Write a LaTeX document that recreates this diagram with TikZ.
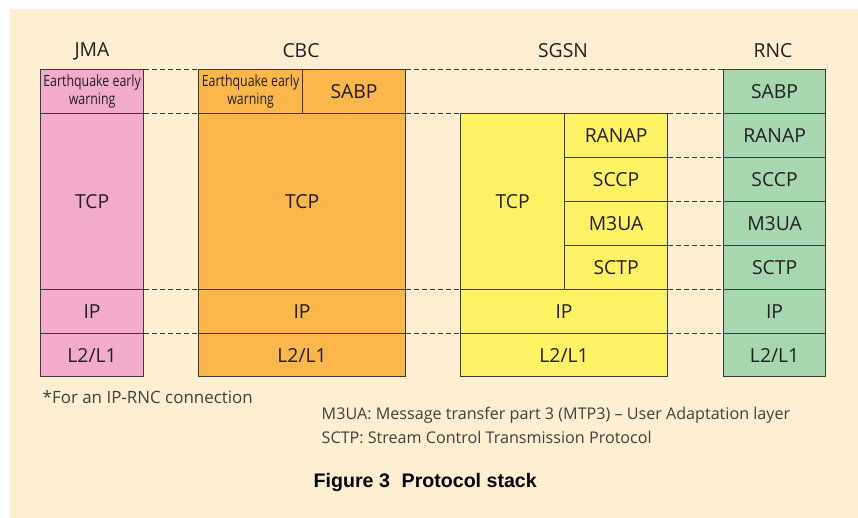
\documentclass[tikz,border=0pt]{standalone}
\usepackage{fontspec}
\setmainfont{Open Sans}
\newfontfamily\condfont{Open Sans}[FakeStretch=0.8]
\newfontfamily\capfont{Liberation Sans}
\newlength\px
\setlength\px{0.75pt}
\definecolor{bgc}{HTML}{FEEFD3}
\definecolor{jmac}{HTML}{F2ABCD}
\definecolor{cbcc}{HTML}{FBB74B}
\definecolor{sgsnc}{HTML}{FFF264}
\definecolor{rncc}{HTML}{A7D7AE}
\definecolor{linec}{HTML}{3A3A3A}
\definecolor{textc}{HTML}{231F20}
\definecolor{notec}{HTML}{404040}
\begin{document}
\begin{tikzpicture}[x=\px, y=-\px,
	layer/.style={draw=linec, line width=0.9pt, inner sep=0pt, anchor=north west,
		text=textc, font=\fontsize{14.5}{16}\selectfont},
	small/.style={align=center, font=\condfont\fontsize{11.6}{13.5}\selectfont},
	head/.style={text=textc, font=\fontsize{14.5}{16}\selectfont},
	link/.style={draw=linec, line width=0.75pt, dash pattern=on 3.6pt off 2.4pt},
	note/.style={anchor=west, text=notec, font=\fontsize{12.1}{14}\selectfont}]
		\useasboundingbox (0,0) rectangle (858,518);
		\fill[bgc] (10,9) rectangle (858,518);

		\node[head] (h-jma) at (92,51)		{JMA};
		\node[head] (h-cbc) at (301,51)		{CBC};
		\node[head] (h-sgsn) at (563,51)	{SGSN};
		\node[head] (h-rnc) at (773,51)		{RNC};

		\node[layer, small, fill=jmac, minimum width=103*\px, minimum height=44*\px] (jma-app) at (40,69) {Earthquake early\\warning};
		\node[layer, fill=jmac, minimum width=103*\px, minimum height=176*\px] (jma-tcp) at (40,113) {TCP};
		\node[layer, fill=jmac, minimum width=103*\px, minimum height=44*\px] (jma-ip) at (40,289) {IP};
		\node[layer, fill=jmac, minimum width=103*\px, minimum height=43*\px] (jma-l2) at (40,333) {L2/L1};

		\node[layer, small, fill=cbcc, minimum width=104*\px, minimum height=44*\px] (cbc-app) at (198,69) {Earthquake early\\warning};
		\node[layer, fill=cbcc, minimum width=103*\px, minimum height=44*\px] (cbc-sabp) at (302,69) {SABP};
		\node[layer, fill=cbcc, minimum width=207*\px, minimum height=176*\px] (cbc-tcp) at (198,113) {TCP};
		\node[layer, fill=cbcc, minimum width=207*\px, minimum height=44*\px] (cbc-ip) at (198,289) {IP};
		\node[layer, fill=cbcc, minimum width=207*\px, minimum height=43*\px] (cbc-l2) at (198,333) {L2/L1};

		\node[layer, fill=sgsnc, minimum width=104*\px, minimum height=176*\px] (sgsn-tcp) at (460,113) {TCP};
		\node[layer, fill=sgsnc, minimum width=103*\px, minimum height=44*\px] (sgsn-ranap) at (564,113) {RANAP};
		\node[layer, fill=sgsnc, minimum width=103*\px, minimum height=44*\px] (sgsn-sccp) at (564,157) {SCCP};
		\node[layer, fill=sgsnc, minimum width=103*\px, minimum height=44*\px] (sgsn-m3ua) at (564,201) {M3UA};
		\node[layer, fill=sgsnc, minimum width=103*\px, minimum height=44*\px] (sgsn-sctp) at (564,245) {SCTP};
		\node[layer, fill=sgsnc, minimum width=207*\px, minimum height=44*\px] (sgsn-ip) at (460,289) {IP};
		\node[layer, fill=sgsnc, minimum width=207*\px, minimum height=43*\px] (sgsn-l2) at (460,333) {L2/L1};

		\node[layer, fill=rncc, minimum width=102*\px, minimum height=44*\px] (rnc-sabp) at (723,69) {SABP};
		\node[layer, fill=rncc, minimum width=102*\px, minimum height=44*\px] (rnc-ranap) at (723,113) {RANAP};
		\node[layer, fill=rncc, minimum width=102*\px, minimum height=44*\px] (rnc-sccp) at (723,157) {SCCP};
		\node[layer, fill=rncc, minimum width=102*\px, minimum height=44*\px] (rnc-m3ua) at (723,201) {M3UA};
		\node[layer, fill=rncc, minimum width=102*\px, minimum height=44*\px] (rnc-sctp) at (723,245) {SCTP};
		\node[layer, fill=rncc, minimum width=102*\px, minimum height=44*\px] (rnc-ip) at (723,289) {IP};
		\node[layer, fill=rncc, minimum width=102*\px, minimum height=43*\px] (rnc-l2) at (723,333) {L2/L1};

		\draw[link] (jma-app.north east) -- (cbc-app.north west);
		\draw[link] (cbc-sabp.north east) -- (rnc-sabp.north west);
		\draw[link] (jma-tcp.north east) -- (cbc-tcp.north west);
		\draw[link] (cbc-tcp.north east) -- (sgsn-tcp.north west);
		\draw[link] (sgsn-ranap.north east) -- (rnc-ranap.north west);
		\draw[link] (sgsn-sccp.north east) -- (rnc-sccp.north west);
		\draw[link] (sgsn-m3ua.north east) -- (rnc-m3ua.north west);
		\draw[link] (sgsn-sctp.north east) -- (rnc-sctp.north west);
		\draw[link] (jma-ip.north east) -- (cbc-ip.north west);
		\draw[link] (cbc-ip.north east) -- (sgsn-ip.north west);
		\draw[link] (sgsn-ip.north east) -- (rnc-ip.north west);
		\draw[link] (jma-l2.north east) -- (cbc-l2.north west);
		\draw[link] (cbc-l2.north east) -- (sgsn-l2.north west);
		\draw[link] (sgsn-l2.north east) -- (rnc-l2.north west);

		\node[note, font=\fontsize{12.7}{14}\selectfont] (foot) at (38,397)	{*For an IP-RNC connection};
		\node[note] (key1) at (317,415)		{M3UA: Message transfer part 3 (MTP3) – User Adaptation layer};
		\node[note] (key2) at (317,437)		{SCTP: Stream Control Transmission Protocol};
		\node[anchor=west, font=\capfont\bfseries\fontsize{14.7}{16}\selectfont] (title) at (309,482) {Figure 3\hspace{0.6em}Protocol stack};
	\end{tikzpicture}
\end{document}
